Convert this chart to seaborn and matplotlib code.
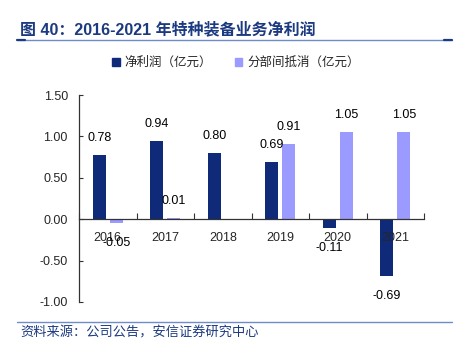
import matplotlib
matplotlib.use("Agg")
import matplotlib.pyplot as plt
import matplotlib.patches as mpatches
from matplotlib.lines import Line2D
import seaborn as sns
import pandas as pd
import numpy as np

years = ["2016", "2017", "2018", "2019", "2020", "2021"]
net_profit = [0.78, 0.94, 0.80, 0.69, -0.11, -0.69]
elimination = [-0.05, 0.01, np.nan, 0.91, 1.05, 1.05]
series_names = ["净利润（亿元）", "分部间抵消（亿元）"]
yticks = [-1.0, -0.5, 0.0, 0.5, 1.0, 1.5]
title = "图 40：2016-2021 年特种装备业务净利润"
source = "资料来源：公司公告，安信证券研究中心"

dark = "#0E2A78"
light = "#9B9BFF"
navy_text = "#1C3A80"
line_blue = "#6F8BC9"

sns.set_theme(style="white")
plt.rcParams["font.family"] = ["Liberation Sans", "Noto Sans CJK SC", "DejaVu Sans"]
plt.rcParams["axes.unicode_minus"] = False

df = pd.DataFrame({
    "year": years * 2,
    "value": net_profit + elimination,
    "series": [series_names[0]] * len(years) + [series_names[1]] * len(years),
})

fig = plt.figure(figsize=(4.58, 3.44), dpi=100)
ax = fig.add_axes([79 / 458, 1 - 302 / 344, (424 - 79) / 458, (302 - 95) / 344])

sns.barplot(data=df, x="year", y="value", hue="series", hue_order=series_names,
            palette=[dark, light], width=0.59, dodge=True, legend=False, ax=ax,
            saturation=1, linewidth=0)

# narrow the bars but keep their centres
bw = 0.226
for cont in ax.containers:
    for bar in cont:
        c = bar.get_x() + bar.get_width() / 2
        bar.set_width(bw)
        bar.set_x(c - bw / 2)

# value labels (seaborn skips NaN bars, so drop them from the value list too)
fs = 9
for cont, vals in zip(ax.containers, [net_profit, elimination]):
    vals = [v for v in vals if not np.isnan(v)]
    for bar, v in zip(cont, vals):
        x = bar.get_x() + bar.get_width() / 2
        off = 12.2 if v >= 0 else -14.4
        ax.annotate(f"{v:.2f}", (x, v), xytext=(0, off), textcoords="offset points",
                    ha="center", va="center", fontsize=fs, color="black", zorder=5)

ax.set_axisbelow(False)
ax.set_ylim(-1.0, 1.5)
ax.set_xlim(-0.5, len(years) - 0.5)
ax.set_yticks(yticks)
ax.set_yticklabels([f"{t:.2f}" for t in yticks])
ax.set_xlabel("")
ax.set_ylabel("")

for s in ["top", "right"]:
    ax.spines[s].set_visible(False)
ax.spines["bottom"].set_position(("data", 0))
for s in ["left", "bottom"]:
    ax.spines[s].set_color("#333333")
    ax.spines[s].set_linewidth(0.9)

ax.tick_params(axis="y", direction="in", length=3, width=0.8, color="#333333",
               labelsize=fs, pad=8, left=True)
ax.tick_params(axis="x", which="major", length=0, labelsize=fs, pad=9)
ax.set_xticks(np.arange(-0.5, len(years), 1.0), minor=True)
ax.tick_params(axis="x", which="minor", direction="in", length=4, width=0.8,
               color="#333333", bottom=True)

# legend
handles = [mpatches.Patch(color=dark, label=series_names[0]),
           mpatches.Patch(color=light, label=series_names[1])]
fig.legend(handles=handles, loc="center", bbox_to_anchor=(236 / 458, 1 - 63 / 344),
           ncol=2, frameon=False, fontsize=9, handlelength=0.6, handleheight=0.6,
           handletextpad=0.4, columnspacing=1.8)

# title and lines
fig.text(20 / 458, 1 - 29 / 344, title, fontsize=11.5, fontweight="bold",
         color=navy_text, ha="left", va="center")
fig.add_artist(Line2D([17 / 458, 452 / 458], [1 - 40 / 344] * 2, color=line_blue, lw=1.0))
fig.add_artist(Line2D([17 / 458, 25 / 458], [1 - 40 / 344] * 2, color=navy_text, lw=1.6))
fig.add_artist(Line2D([444 / 458, 452 / 458], [1 - 40 / 344] * 2, color=navy_text, lw=1.6))
fig.add_artist(Line2D([17 / 458, 452 / 458], [1 - 322 / 344] * 2, color=line_blue, lw=1.0))
fig.text(20 / 458, 1 - 333 / 344, source, fontsize=9.5, color=navy_text,
         ha="left", va="center", style="italic")

fig.savefig("out.png", dpi=100)
